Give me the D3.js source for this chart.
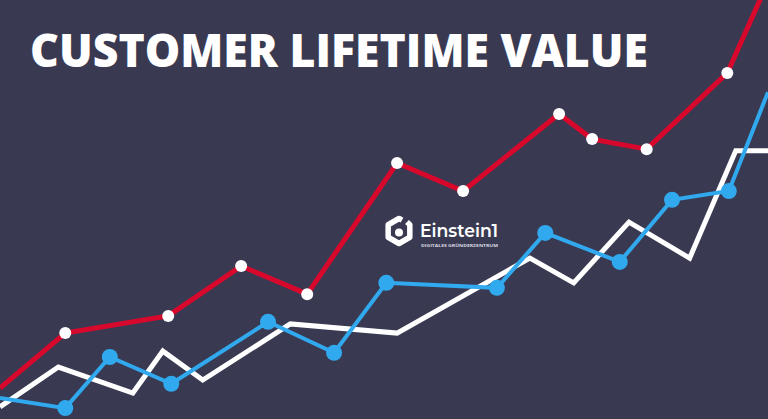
<!DOCTYPE html>
<html>
<head>
<meta charset="utf-8">
<script src="https://cdn.jsdelivr.net/npm/d3@7"></script>
<style>
  html, body { margin: 0; padding: 0; background: #393a52; }
  svg { display: block; }
</style>
</head>
<body>
<div id="chart"></div>
<script>
// values (x: period 0..100, y: value 0..100)
var redX   = [0, 8.5, 21.9, 31.4, 40, 51.7, 60.3, 72.8, 77.1, 84.2, 94.7, 100];
var redY   = [7.4, 20.5, 24.6, 36.5, 29.8, 61.1, 54.4, 72.8, 66.8, 64.4, 82.6, 104.3];
var blueX  = [0, 8.5, 14.3, 22.3, 34.9, 43.5, 50.3, 64.7, 71.0, 80.7, 87.5, 94.9, 100];
var blueY  = [5.0, 2.6, 14.8, 8.4, 23.2, 15.8, 32.5, 31.3, 44.4, 37.5, 52.3, 54.4, 78.0];
var whiteX = [0, 7.6, 17.3, 21.2, 26.4, 37.8, 51.7, 69.0, 74.7, 81.9, 89.8, 95.8, 100];
var whiteY = [2.9, 12.4, 6.2, 16.2, 9.3, 22.7, 20.5, 38.4, 32.5, 47.0, 38.4, 64.0, 64.0];

var title = 'CUSTOMER LIFETIME VALUE';

var w = 768, h = 419;

var svg = d3.select('#chart').append('svg')
    .attr('width', w)
    .attr('height', h);

svg.append('rect')
    .attr('width', w)
    .attr('height', h)
    .attr('fill', '#393a52');

var x = d3.scaleLinear().domain([0, 100]).range([0, w]);
var y = d3.scaleLinear().domain([0, 100]).range([h, 0]);

function zip(xs, ys) {
    return xs.map(function(v, i) { return {x: v, y: ys[i]}; });
}

var line = d3.line()
    .x(function(d) { return x(d.x); })
    .y(function(d) { return y(d.y); });

var white = zip(whiteX, whiteY),
    blue = zip(blueX, blueY),
    red = zip(redX, redY);

// logo in the middle
var logo = svg.append('g').attr('transform', 'translate(399,231)');
var hex = d3.range(6).map(function(i) {
    var a = Math.PI / 180 * (60 * i - 90);
    return [12.5 * Math.cos(a), 12.5 * Math.sin(a)];
});
logo.append('path')
    .attr('d', d3.line()([[8, -9], hex[1], hex[2], hex[3], hex[4], hex[5], hex[0], [3, -10.8]]))
    .attr('fill', 'none')
    .attr('stroke', '#fff')
    .attr('stroke-width', 5.5)
    .attr('stroke-linejoin', 'round');
logo.append('circle').attr('r', 4).attr('cy', 1.5).attr('fill', '#fff');
svg.append('text')
    .attr('x', 420).attr('y', 237)
    .attr('fill', '#fff')
    .attr('font-family', 'Montserrat, "Open Sans", sans-serif')
    .attr('font-size', 19)
    .attr('font-weight', 600)
    .attr('textLength', 78)
    .attr('lengthAdjust', 'spacingAndGlyphs')
    .text('Einstein1');
svg.append('text')
    .attr('x', 421).attr('y', 247)
    .attr('fill', '#d8d9e0')
    .attr('font-family', '"Open Sans", sans-serif')
    .attr('font-size', 4)
    .attr('font-weight', 700)
    .attr('textLength', 77)
    .attr('lengthAdjust', 'spacingAndGlyphs')
    .text('DIGITALES GRÜNDERZENTRUM');

svg.append('path')
    .datum(white)
    .attr('d', line)
    .attr('fill', 'none')
    .attr('stroke', '#ffffff')
    .attr('stroke-width', 5);

svg.append('path')
    .datum(blue)
    .attr('d', line)
    .attr('fill', 'none')
    .attr('stroke', '#31a9ee')
    .attr('stroke-width', 4);

svg.selectAll('.blue-dot')
    .data(blue.slice(1, -1))
    .enter().append('circle')
    .attr('class', 'blue-dot')
    .attr('cx', function(d) { return x(d.x); })
    .attr('cy', function(d) { return y(d.y); })
    .attr('r', 8)
    .attr('fill', '#31a9ee');

svg.append('path')
    .datum(red)
    .attr('d', line)
    .attr('fill', 'none')
    .attr('stroke', '#d8082c')
    .attr('stroke-width', 5);

svg.selectAll('.red-dot')
    .data(red.slice(1, -1))
    .enter().append('circle')
    .attr('class', 'red-dot')
    .attr('cx', function(d) { return x(d.x); })
    .attr('cy', function(d) { return y(d.y); })
    .attr('r', 6)
    .attr('fill', '#ffffff');

svg.append('text')
    .attr('x', 30).attr('y', 67)
    .attr('fill', '#ffffff')
    .attr('font-family', '"Open Sans", Lato, sans-serif')
    .attr('font-size', 46)
    .attr('font-weight', 800)
    .attr('textLength', 618)
    .attr('lengthAdjust', 'spacingAndGlyphs')
    .text(title);
</script>
</body>
</html>
